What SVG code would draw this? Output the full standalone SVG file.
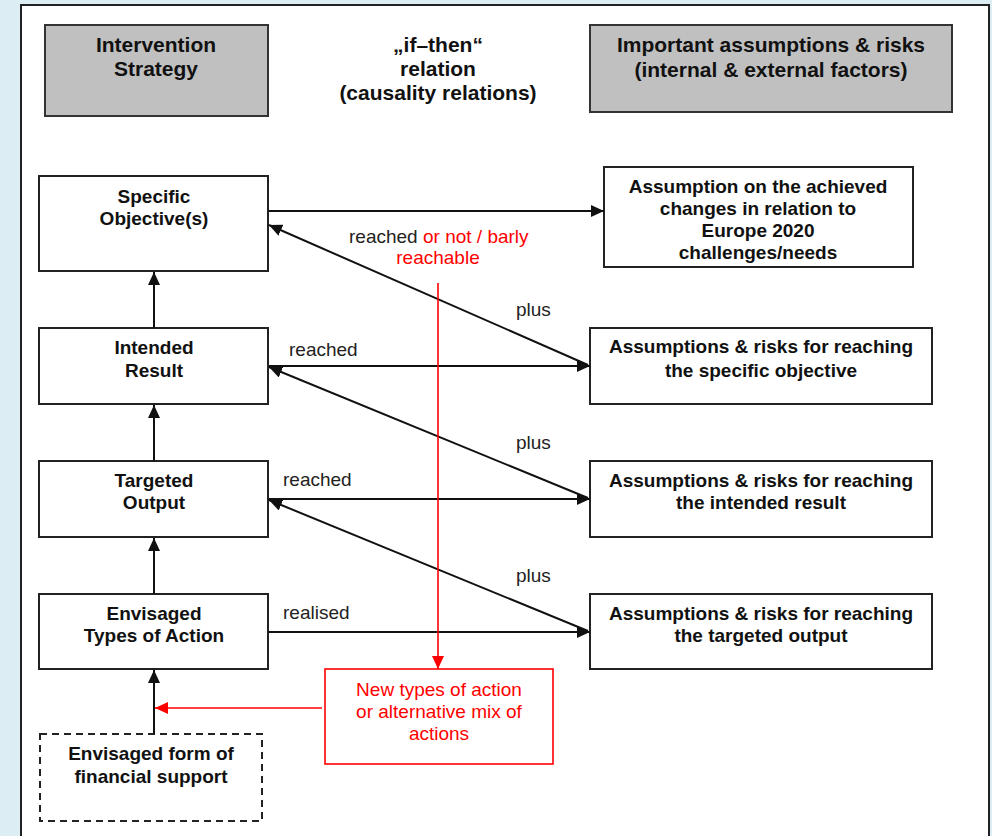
<svg xmlns="http://www.w3.org/2000/svg" width="992" height="836" viewBox="0 0 992 836">
<defs>
<marker id="ab" markerUnits="userSpaceOnUse" markerWidth="14" markerHeight="12" refX="13" refY="6" orient="auto"><path d="M0,0 L13,6 L0,12 z" fill="#111"/></marker>
<marker id="ar" markerUnits="userSpaceOnUse" markerWidth="14" markerHeight="12" refX="13" refY="6" orient="auto"><path d="M0,0 L13,6 L0,12 z" fill="#f00"/></marker>
<clipPath id="clipA"><rect x="604" y="167" width="309" height="96"/></clipPath>
<style>
text{font-family:"Liberation Sans",Arial,sans-serif;text-anchor:middle}
.h{font-size:21px;font-weight:bold;fill:#111}
.b{font-size:19px;font-weight:bold;fill:#111}
.l{font-size:19px;fill:#222;text-anchor:start}
.r{font-size:19px;fill:#f00}
.box{fill:#fff;stroke:#222;stroke-width:2}
.gray{fill:#c0c0c0;stroke:#333;stroke-width:2}
.c{stroke:#111;stroke-width:2;fill:none}
.cr{stroke:#f00;stroke-width:1.6;fill:none}
</style>
</defs>
<rect x="0" y="0" width="992" height="836" fill="#dcedf4"/>
<rect x="21" y="5" width="968" height="840" fill="#fff" stroke="#222" stroke-width="2"/>

<g id="hdr-intervention">
<rect class="gray" x="45" y="25" width="223" height="91"/>
<text class="h" x="156" y="52">Intervention</text>
<text class="h" x="156" y="76">Strategy</text>
</g>
<g id="hdr-ifthen">
<text class="h" x="438" y="52">„if–then“</text>
<text class="h" x="438" y="76">relation</text>
<text class="h" x="438" y="100">(causality relations)</text>
</g>
<g id="hdr-assumptions">
<rect class="gray" x="590" y="25" width="362" height="87"/>
<text class="h" x="771" y="52">Important assumptions &amp; risks</text>
<text class="h" x="771" y="77">(internal &amp; external factors)</text>
</g>

<g id="so">
<rect class="box" x="39" y="176" width="229" height="95"/>
<text class="b" x="154" y="203">Specific</text>
<text class="b" x="154" y="225">Objective(s)</text>
</g>
<g id="ir">
<rect class="box" x="39" y="328" width="229" height="76"/>
<text class="b" x="154" y="354">Intended</text>
<text class="b" x="154" y="377">Result</text>
</g>
<g id="to">
<rect class="box" x="39" y="461" width="229" height="76"/>
<text class="b" x="154" y="487">Targeted</text>
<text class="b" x="154" y="509">Output</text>
</g>
<g id="eta">
<rect class="box" x="39" y="594" width="229" height="75"/>
<text class="b" x="154" y="620">Envisaged</text>
<text class="b" x="154" y="642">Types of Action</text>
</g>
<g id="fin">
<rect x="40" y="734" width="222" height="87" fill="#fff" stroke="#222" stroke-width="2" stroke-dasharray="7,5"/>
<text class="b" x="151" y="760">Envisaged form of</text>
<text class="b" x="151" y="783">financial support</text>
</g>

<g id="a-europe">
<rect class="box" x="604" y="167" width="309" height="100"/>
<g clip-path="url(#clipA)">
<text class="b" x="758" y="193">Assumption on the achieved</text>
<text class="b" x="758" y="215">changes in relation to</text>
<text class="b" x="758" y="237">Europe 2020</text>
<text class="b" x="758" y="259">challenges/needs</text>
</g>
</g>
<g id="a-so">
<rect class="box" x="590" y="328" width="342" height="76"/>
<text class="b" x="761" y="353">Assumptions &amp; risks for reaching</text>
<text class="b" x="761" y="377">the specific objective</text>
</g>
<g id="a-ir">
<rect class="box" x="590" y="461" width="342" height="76"/>
<text class="b" x="761" y="487">Assumptions &amp; risks for reaching</text>
<text class="b" x="761" y="509">the intended result</text>
</g>
<g id="a-to">
<rect class="box" x="590" y="594" width="342" height="75"/>
<text class="b" x="761" y="620">Assumptions &amp; risks for reaching</text>
<text class="b" x="761" y="642">the targeted output</text>
</g>

<g id="newtypes">
<rect x="325" y="669" width="228" height="95" fill="#fff" stroke="#f00" stroke-width="1.6"/>
<text class="r" x="439" y="696">New types of action</text>
<text class="r" x="439" y="718">or alternative mix of</text>
<text class="r" x="439" y="740">actions</text>
</g>

<g id="connectors">
<line class="c" x1="154" y1="328" x2="154" y2="272" marker-end="url(#ab)"/>
<line class="c" x1="154" y1="461" x2="154" y2="405" marker-end="url(#ab)"/>
<line class="c" x1="154" y1="594" x2="154" y2="538" marker-end="url(#ab)"/>
<line class="c" x1="154" y1="734" x2="154" y2="670" marker-end="url(#ab)"/>
<line class="c" x1="269" y1="211" x2="604" y2="211" marker-end="url(#ab)"/>
<line class="c" x1="269" y1="366" x2="590" y2="366" marker-end="url(#ab)"/>
<line class="c" x1="269" y1="499" x2="590" y2="499" marker-end="url(#ab)"/>
<line class="c" x1="269" y1="632" x2="590" y2="632" marker-end="url(#ab)"/>
<line class="c" x1="588" y1="365" x2="269" y2="225" marker-end="url(#ab)"/>
<line class="c" x1="588" y1="498" x2="269" y2="367" marker-end="url(#ab)"/>
<line class="c" x1="588" y1="631" x2="269" y2="500" marker-end="url(#ab)"/>
<line class="cr" x1="438" y1="283" x2="438" y2="669" marker-end="url(#ar)"/>
<line class="cr" x1="322" y1="708" x2="155" y2="708" marker-end="url(#ar)"/>
<text class="l" x="349" y="243"><tspan fill="#222">reached </tspan><tspan fill="#f00">or not / barly</tspan></text>
<text class="r" x="438" y="264">reachable</text>
<text class="l" x="516" y="316">plus</text>
<text class="l" x="516" y="449">plus</text>
<text class="l" x="516" y="582">plus</text>
<text class="l" x="289" y="356">reached</text>
<text class="l" x="283" y="486">reached</text>
<text class="l" x="283" y="619">realised</text>
</g>
</svg>
